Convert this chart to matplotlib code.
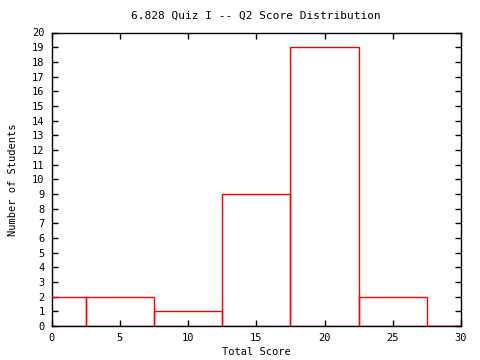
import matplotlib
matplotlib.use("Agg")
import matplotlib.pyplot as plt

bin_centers = [0, 5, 10, 15, 20, 25, 30]
counts = [2, 2, 1, 9, 19, 2, 0]
x_ticks = [0, 5, 10, 15, 20, 25, 30]
y_ticks = list(range(0, 21))

plt.rcParams['font.family'] = ['DejaVu Sans Mono']
plt.rcParams['font.size'] = 7.5

fig = plt.figure(figsize=(4.8, 3.6), dpi=100)
ax = fig.add_axes([51.5/480, 34/360, (461-51.5)/480, (326-32.5)/360])
ax.bar(bin_centers, counts, width=5, fill=False, edgecolor='red', linewidth=1.0,
       clip_on=True, zorder=3)
ax.set_xlim(0, 30)
ax.set_ylim(0, 20)
ax.set_xticks(x_ticks)
ax.set_yticks(y_ticks)
ax.tick_params(direction='in', top=True, right=True, length=4, width=1.0, pad=5)
for s in ax.spines.values():
    s.set_linewidth(1.0)
ax.set_title('6.828 Quiz I -- Q2 Score Distribution', fontsize=8, pad=10)
ax.set_xlabel('Total Score', labelpad=3)
ax.set_ylabel('Number of Students', labelpad=10)
fig.savefig('out.png', dpi=100)
